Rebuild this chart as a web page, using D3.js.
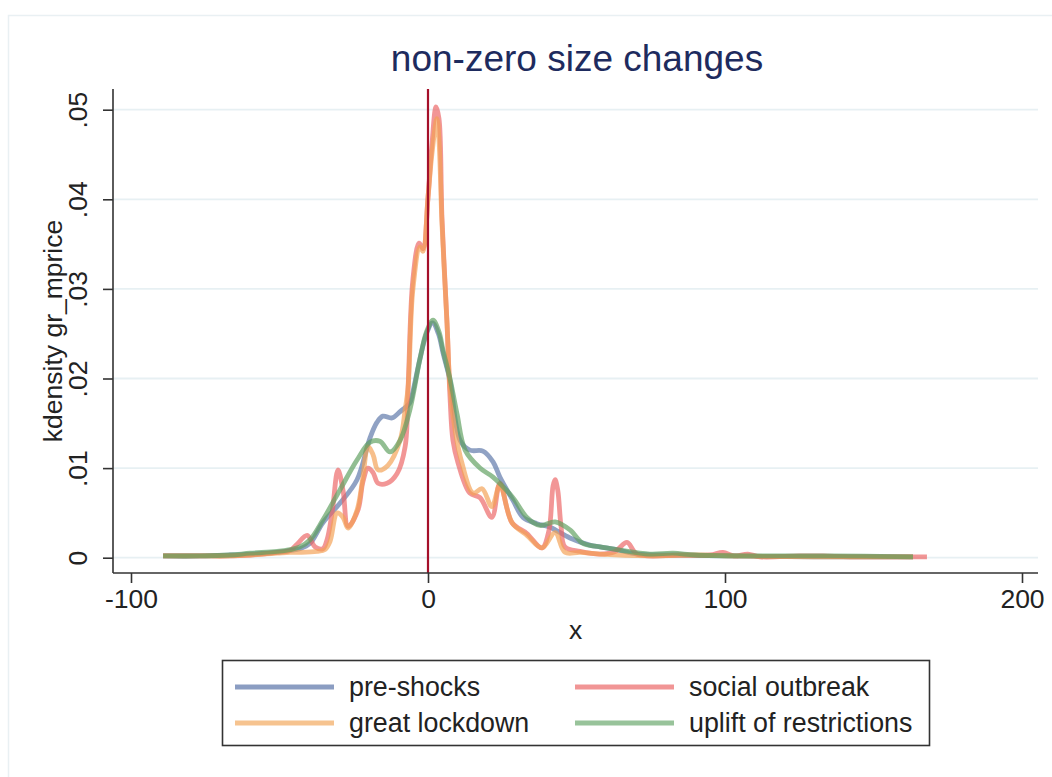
<!DOCTYPE html>
<html>
<head>
<meta charset="utf-8">
<script src="https://cdn.jsdelivr.net/npm/d3@7"></script>
<style>
  html, body { margin: 0; padding: 0; background: #fff; }
  svg { display: block; font-family: "Liberation Sans", Arial, Helvetica, sans-serif; }
</style>
</head>
<body>
<svg id="chart" width="1052" height="777"></svg>
<script>
// ---- data (x = gr_mprice, y = kernel density) ----
const title = "non-zero size changes";
const xLabel = "x";
const yLabel = "kdensity gr_mprice";
const xTicks = [-100, 0, 100, 200];
const xTickLabels = ["-100", "0", "100", "200"];
const yTicks = [0, 0.01, 0.02, 0.03, 0.04, 0.05];
const yTickLabels = ["0", ".01", ".02", ".03", ".04", ".05"];
const seriesNames = ["pre-shocks", "social outbreak", "great lockdown", "uplift of restrictions"];
const refLineX = 0;

const preShocks = [
  [-89.2,.0002],[-76.8,.0002],[-66.7,.0003],[-59.9,.0004],[-50.8,.0006],[-46.5,.0008],[-43.1,.0010],
  [-39.7,.0016],[-35.4,.0039],[-29.6,.0061],[-23.9,.0087],[-19.5,.0134],[-17.2,.0151],[-15.2,.0158],
  [-12.1,.0156],[-9.4,.0163],[-6.1,.0173],[-5.1,.0185],[-2.7,.0222],[-0.5,.0250],[1.5,.0262],[3.5,.0250],
  [5.1,.0228],[7.4,.0198],[10.8,.0131],[14.1,.0120],[18.5,.0119],[21.9,.0107],[24.2,.0090],[28.6,.0064],
  [32.0,.0045],[36.7,.0038],[41.1,.0034],[47.8,.0022],[54.5,.0014],[57.9,.0012],[63.6,.0009],[70.4,.0004],
  [82.5,.0003],[100,.0002],[130,.0001],[163.3,.0001]
];
const socialOutbreak = [
  [-89.2,.0002],[-76.8,.0002],[-66.7,.0002],[-59.9,.0003],[-50.8,.0006],[-46.5,.0008],[-44.1,.0015],
  [-40.7,.0025],[-38.0,.0012],[-35.4,.0010],[-34.0,.0020],[-32.3,.0050],[-30.3,.0098],[-28.6,.0075],
  [-26.9,.0035],[-23.6,.0053],[-21.9,.0085],[-20.2,.0100],[-18.5,.0095],[-16.8,.0083],[-13.8,.0083],
  [-10.4,.0094],[-7.7,.0124],[-6.7,.0190],[-5.1,.0310],[-3.0,.0351],[-1.7,.0345],[0,.0402],[1.3,.0460],
  [2.7,.0503],[3.7,.0490],[4.7,.0380],[6.4,.0262],[7.4,.0180],[8.4,.0131],[10.1,.0106],[14.1,.0072],
  [17.5,.0067],[21.5,.0045],[24.2,.0083],[28.3,.0039],[33.3,.0027],[38.4,.0011],[40.7,.0030],[42.1,.0080],
  [42.8,.0087],[43.7,.0075],[44.8,.0035],[46.1,.0012],[51.2,.0007],[57.9,.0004],[63.0,.0007],[67.0,.0017],
  [70.4,.0004],[84.8,.0003],[95,.0003],[99.3,.0006],[103,.0002],[107.7,.0004],[111.8,.0001],[125,.0002],
  [133,.0002],[142,.0001],[168,.0001]
];
const greatLockdown = [
  [-89.2,.0002],[-76.8,.0002],[-66.7,.0002],[-59.9,.0003],[-50.8,.0005],[-46.5,.0006],[-43.1,.0006],
  [-37.4,.0007],[-34.7,.0009],[-33.0,.0018],[-30.6,.0050],[-28.6,.0045],[-26.9,.0033],[-23.9,.0053],
  [-21.9,.0090],[-20.2,.0124],[-18.5,.0115],[-16.8,.0098],[-13.5,.0103],[-9.4,.0131],[-7.7,.0165],
  [-6.7,.0190],[-5.1,.0299],[-2.7,.0347],[-1.7,.0342],[0,.0402],[1.3,.0450],[3.0,.0490],[3.7,.0466],
  [4.7,.0373],[6.4,.0262],[7.4,.0190],[9.1,.0143],[11.4,.0106],[15.2,.0072],[18.2,.0077],[21.5,.0057],
  [24.2,.0081],[28.3,.0039],[33.3,.0025],[38.4,.0011],[42.8,.0028],[46.1,.0006],[51.2,.0006],[57.9,.0004],
  [74.7,.0002],[91.6,.0003],[100,.0002],[130,.0001],[163.3,.0001]
];
const upliftRestrictions = [
  [-89.2,.0002],[-76.8,.0002],[-66.7,.0003],[-59.9,.0005],[-50.8,.0007],[-46.5,.0009],[-43.1,.0012],
  [-39.7,.0020],[-35.4,.0042],[-29.6,.0076],[-23.9,.0109],[-19.5,.0129],[-16.2,.0130],[-12.8,.0118],
  [-9.4,.0131],[-6.1,.0165],[-2.7,.0222],[-0.5,.0252],[1.7,.0265],[3.7,.0252],[5.1,.0231],[7.4,.0200],
  [9.8,.0160],[12.5,.0120],[17.5,.0100],[21.9,.0090],[28.6,.0067],[33.3,.0045],[37.7,.0036],[42.8,.0040],
  [47.8,.0031],[52.2,.0016],[57.9,.0012],[63.6,.0009],[74.7,.0004],[82.5,.0005],[90,.0003],[110,.0002],
  [135,.0002],[163.3,.0001]
];

// ---- drawing ----
const svg = d3.select("#chart");
const W = 1052, H = 777;
const plotL = 113, plotR = 1038, plotT = 89, plotB = 573;

const x = d3.scaleLinear().domain([-100, 200]).range([131, 1022]);
const y = d3.scaleLinear().domain([0, 0.05]).range([557.7, 109.7]);

// outer frame
svg.append("rect").attr("x", 8.5).attr("y", 15.5).attr("width", W).attr("height", H)
  .attr("fill", "#fff").attr("stroke", "#e9f0f3").attr("stroke-width", 1.5);

// gridlines
svg.append("g").selectAll("line").data(yTicks).join("line")
  .attr("x1", plotL).attr("x2", plotR)
  .attr("y1", d => y(d)).attr("y2", d => y(d))
  .attr("stroke", "#e7f0f3").attr("stroke-width", 1.8);

// series
const colors = {
  "pre-shocks": "#5c76a8",
  "social outbreak": "#ec6464",
  "great lockdown": "#f3a154",
  "uplift of restrictions": "#5f9f5f"
};
const legendColors = {
  "pre-shocks": "#8b9dc2",
  "social outbreak": "#f19595",
  "great lockdown": "#f6c38f",
  "uplift of restrictions": "#98c39a"
};
const seriesData = {
  "pre-shocks": preShocks,
  "social outbreak": socialOutbreak,
  "great lockdown": greatLockdown,
  "uplift of restrictions": upliftRestrictions
};
const line = d3.line()
  .x(d => x(d[0])).y(d => y(d[1]))
  .curve(d3.curveCatmullRom.alpha(0.5));

const drawOrder = ["pre-shocks", "social outbreak", "great lockdown", "uplift of restrictions"];
const gLines = svg.append("g");
drawOrder.forEach(name => {
  gLines.append("path")
    .datum(seriesData[name])
    .attr("d", line)
    .attr("fill", "none")
    .attr("stroke", colors[name])
    .attr("stroke-opacity", 0.68)
    .attr("stroke-width", 4.8)
    .attr("stroke-linejoin", "round")
    .attr("stroke-linecap", "butt");
});

// reference line at x = 0
svg.append("line")
  .attr("x1", x(refLineX)).attr("x2", x(refLineX))
  .attr("y1", plotT).attr("y2", plotB)
  .attr("stroke", "#a5102a").attr("stroke-width", 2.2);

// axes
const axisColor = "#333";
const xAxisG = svg.append("g").attr("transform", `translate(0,${plotB})`)
  .call(d3.axisBottom(x).tickValues(xTicks).tickFormat((d, i) => xTickLabels[i]).tickSize(10).tickPadding(6).tickSizeOuter(0));
xAxisG.select(".domain").remove();
xAxisG.append("line").attr("x1", plotL).attr("x2", plotR).attr("y1", 0).attr("y2", 0)
  .attr("stroke", axisColor).attr("stroke-width", 1.6);
xAxisG.selectAll(".tick line").attr("stroke", axisColor).attr("stroke-width", 1.6);
xAxisG.selectAll(".tick text")
  .attr("font-size", 26.5).attr("fill", "#222")
  .attr("font-family", "Liberation Sans, Arial, sans-serif")
  .attr("dy", null).attr("y", 35);

const yAxisG = svg.append("g").attr("transform", `translate(${plotL},0)`)
  .call(d3.axisLeft(y).tickValues(yTicks).tickFormat((d, i) => yTickLabels[i]).tickSize(10).tickSizeOuter(0));
yAxisG.select(".domain").remove();
yAxisG.append("line").attr("x1", 0).attr("x2", 0).attr("y1", plotT).attr("y2", plotB)
  .attr("stroke", axisColor).attr("stroke-width", 1.6);
yAxisG.selectAll(".tick line").attr("stroke", axisColor).attr("stroke-width", 1.6);
yAxisG.selectAll(".tick text")
  .attr("font-size", 26.5).attr("fill", "#222")
  .attr("font-family", "Liberation Sans, Arial, sans-serif")
  .attr("transform", "rotate(-90)")
  .attr("text-anchor", "middle")
  .attr("x", 0).attr("y", -26).attr("dy", null);

// title
svg.append("text").attr("x", 577).attr("y", 71).attr("text-anchor", "middle")
  .attr("font-size", 37).attr("fill", "#1e2b5e").text(title);

// axis titles
svg.append("text").attr("x", (plotL + plotR) / 2).attr("y", 639).attr("text-anchor", "middle")
  .attr("font-size", 26.5).attr("fill", "#222").text(xLabel);
svg.append("text").attr("transform", `translate(62,${(plotT + plotB) / 2}) rotate(-90)`)
  .attr("text-anchor", "middle").attr("font-size", 26.5).attr("fill", "#222").text(yLabel);

// legend
const leg = svg.append("g");
leg.append("rect").attr("x", 222.5).attr("y", 660.5).attr("width", 707).attr("height", 85)
  .attr("fill", "#fff").attr("stroke", "#333").attr("stroke-width", 1.6);
const legendLayout = [
  { name: "pre-shocks", lx: 235, ly: 687 },
  { name: "social outbreak", lx: 575, ly: 687 },
  { name: "great lockdown", lx: 235, ly: 723 },
  { name: "uplift of restrictions", lx: 575, ly: 723 }
];
legendLayout.forEach(item => {
  leg.append("line").attr("x1", item.lx).attr("x2", item.lx + 99)
    .attr("y1", item.ly).attr("y2", item.ly)
    .attr("stroke", legendColors[item.name]).attr("stroke-width", 4.8);
  leg.append("text").attr("x", item.lx + 114).attr("y", item.ly + 9)
    .attr("font-size", 26.8).attr("fill", "#222").text(item.name);
});
</script>
</body>
</html>
